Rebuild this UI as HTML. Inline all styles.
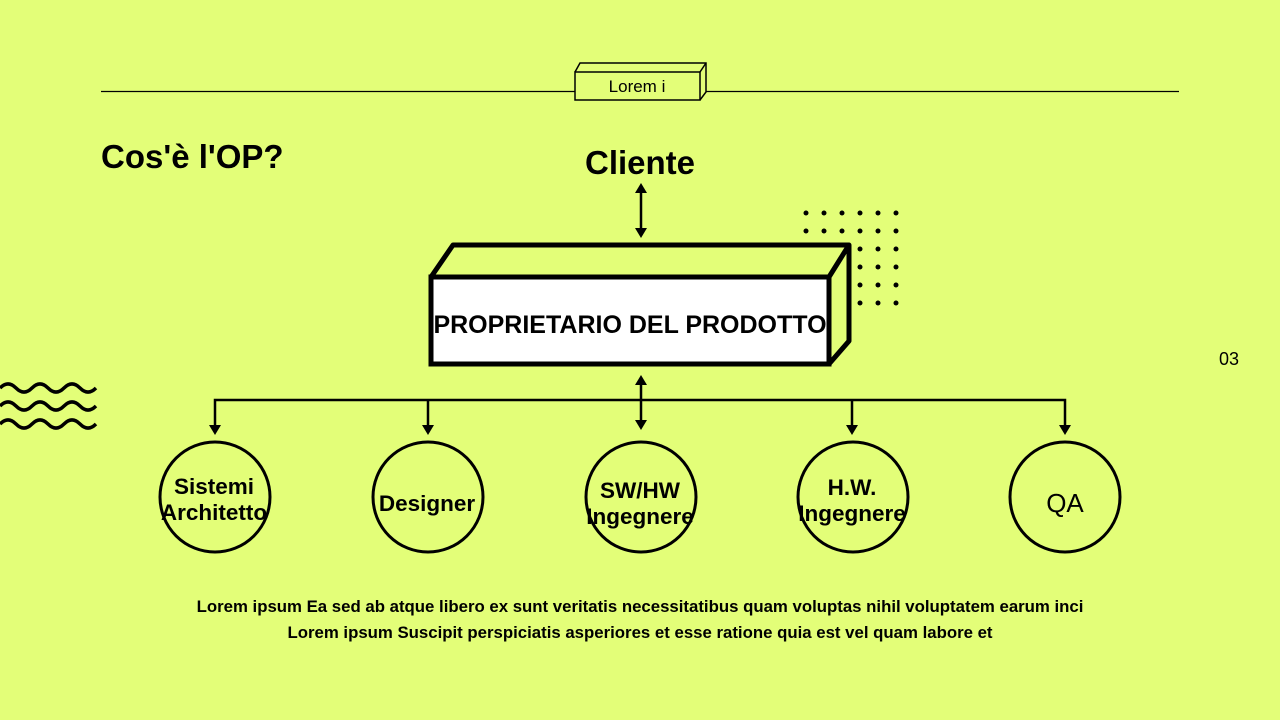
<!DOCTYPE html>
<html><head><meta charset="utf-8"><style>
html,body{margin:0;padding:0;background:#e3fe78;}
svg{display:block}
text{font-family:"Liberation Sans",sans-serif;fill:#000;font-weight:bold}
text.n{font-weight:normal}
</style></head><body>
<svg width="1280" height="720" viewBox="0 0 1280 720">
<defs>
<g id="dr"><circle cx="806" cy="0" r="2.5"/><circle cx="824" cy="0" r="2.5"/><circle cx="842" cy="0" r="2.5"/><circle cx="860" cy="0" r="2.5"/><circle cx="878" cy="0" r="2.5"/><circle cx="896" cy="0" r="2.5"/></g>
</defs>
<rect width="1280" height="720" fill="#e3fe78"/>
<line x1="101" y1="91.5" x2="575" y2="91.5" stroke="#000" stroke-width="1.3"/>
<line x1="706" y1="91.5" x2="1179" y2="91.5" stroke="#000" stroke-width="1.3"/>
<path d="M575,72 L580,63 L706,63 L706,92 L700,100" fill="#e3fe78" stroke="#000" stroke-width="1.5"/>
<line x1="700" y1="72" x2="706" y2="63" stroke="#000" stroke-width="1.5"/>
<rect x="575" y="72" width="125" height="28" fill="#e3fe78" stroke="#000" stroke-width="1.5"/>
<text class="n" x="637" y="92" font-size="17" text-anchor="middle">Lorem i</text>
<text x="101" y="168" font-size="33">Cos'è l'OP?</text>
<text x="640" y="174" font-size="33" text-anchor="middle">Cliente</text>
<text class="n" x="1229" y="365" font-size="18" text-anchor="middle">03</text>
<g fill="#000">
<use href="#dr" y="213"/><use href="#dr" y="231"/><use href="#dr" y="249"/><use href="#dr" y="267"/><use href="#dr" y="285"/><use href="#dr" y="303"/>
</g>
<g fill="none" stroke="#000" stroke-width="3.5">
<path d="M0,388 q8,-8 16,0 t16,0 t16,0 t16,0 t16,0 t16,0"/>
<path d="M0,406 q8,-8 16,0 t16,0 t16,0 t16,0 t16,0 t16,0"/>
<path d="M0,424 q8,-8 16,0 t16,0 t16,0 t16,0 t16,0 t16,0"/>
</g>
<path d="M431,277 L453,245 L849,245 L849,341 L829,364 L829,277 Z" fill="#e3fe78" stroke="#000" stroke-width="5" stroke-linejoin="round"/>
<line x1="829" y1="277" x2="849" y2="245" stroke="#000" stroke-width="5"/>
<rect x="431" y="277" width="398" height="87" fill="#fff" stroke="#000" stroke-width="5"/>
<text x="630" y="333" font-size="25" text-anchor="middle">PROPRIETARIO DEL PRODOTTO</text>
<g stroke="#000" stroke-width="2.5" fill="none">
<line x1="641" y1="190" x2="641" y2="231"/>
<line x1="641" y1="382" x2="641" y2="423"/>
<polyline points="215,430 215,400 1065,400 1065,430"/>
<line x1="428" y1="400" x2="428" y2="430"/>
<line x1="852" y1="400" x2="852" y2="430"/>
</g>
<g fill="#000">
<path d="M635,193 L641,183 L647,193Z"/><path d="M635,228 L641,238 L647,228Z"/>
<path d="M635,385 L641,375 L647,385Z"/><path d="M635,420 L641,430 L647,420Z"/>
<path d="M209,425 L215,435 L221,425Z"/><path d="M422,425 L428,435 L434,425Z"/>
<path d="M846,425 L852,435 L858,425Z"/><path d="M1059,425 L1065,435 L1071,425Z"/>
</g>
<g fill="none" stroke="#000" stroke-width="3">
<circle cx="215" cy="497" r="55"/><circle cx="428" cy="497" r="55"/><circle cx="641" cy="497" r="55"/><circle cx="853" cy="497" r="55"/><circle cx="1065" cy="497" r="55"/>
</g>
<g font-size="22.5" text-anchor="middle">
<text x="214" y="494">Sistemi</text><text x="214" y="520">Architetto</text>
<text x="427" y="511">Designer</text>
<text x="640" y="498">SW/HW</text><text x="640" y="524">Ingegnere</text>
<text x="852" y="495">H.W.</text><text x="852" y="521">Ingegnere</text>
<text class="n" x="1065" y="512" font-size="26">QA</text>
</g>
<g font-size="16.8" text-anchor="middle">
<text x="640" y="612">Lorem ipsum Ea sed ab atque libero ex sunt veritatis necessitatibus quam voluptas nihil voluptatem earum inci</text>
<text x="640" y="638">Lorem ipsum Suscipit perspiciatis asperiores et esse ratione quia est vel quam labore et</text>
</g>
</svg>
</body></html>
